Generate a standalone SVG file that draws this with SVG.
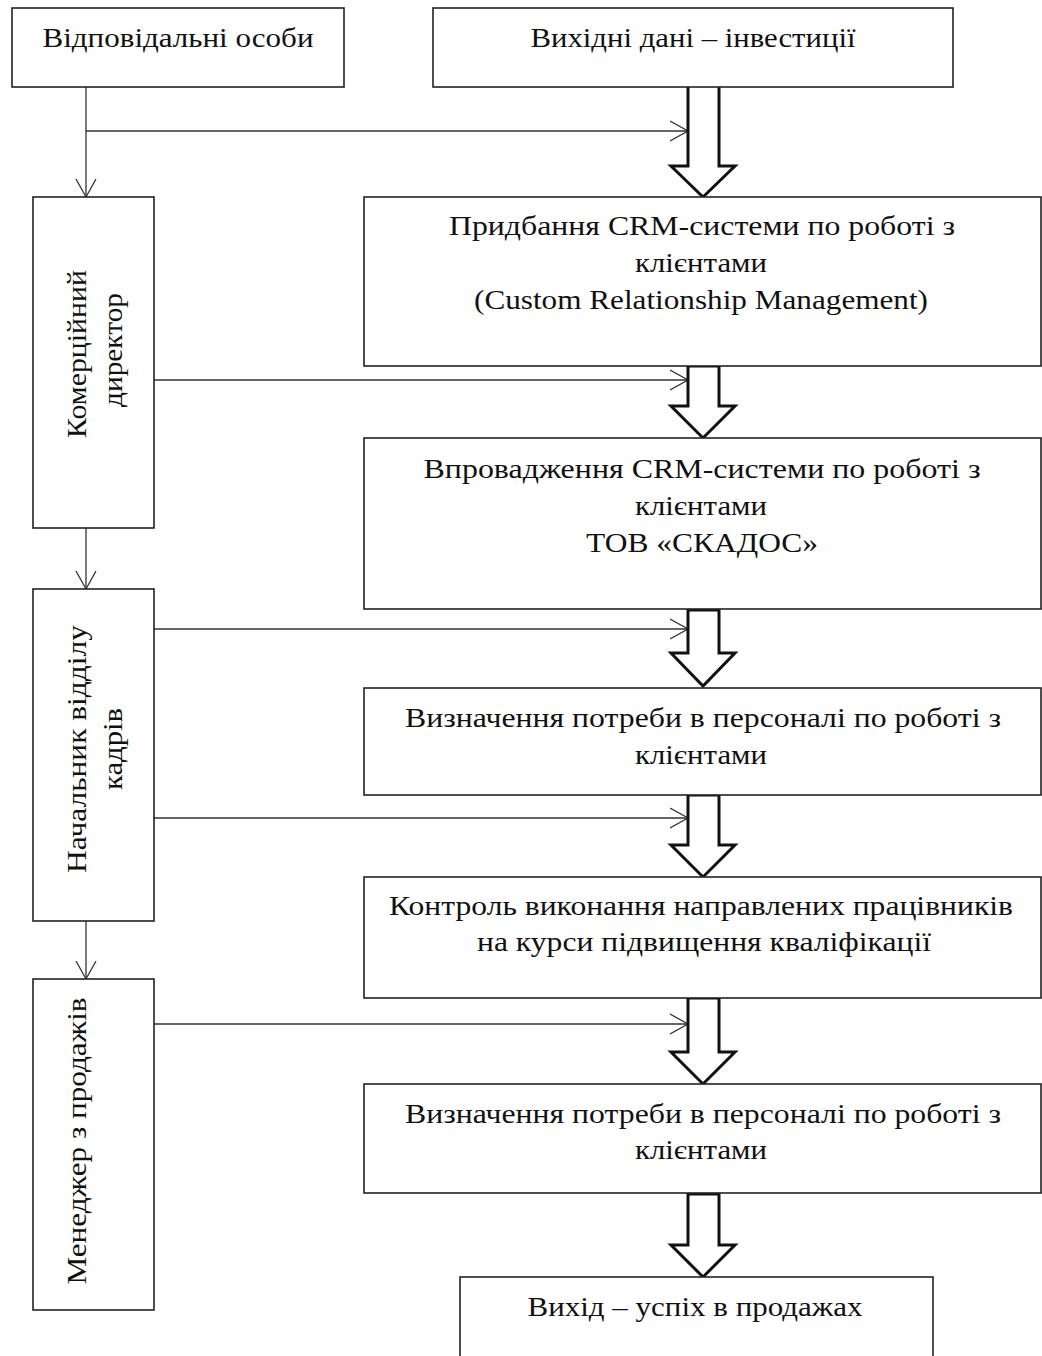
<svg xmlns="http://www.w3.org/2000/svg" width="1042" height="1356" viewBox="0 0 1042 1356">
<style>
.box{fill:#fff;stroke:#222;stroke-width:1.6}
.t{font-family:"Liberation Serif","Times New Roman",serif;font-size:28px;fill:#111;text-anchor:middle}
.ln{fill:none;stroke:#333;stroke-width:1.3}
.blk{fill:#fff;stroke:#111;stroke-width:3;stroke-linejoin:miter}
</style>
<defs>
<marker id="oa" markerWidth="20" markerHeight="24" refX="18" refY="11" orient="auto" markerUnits="userSpaceOnUse">
<path d="M0,1 L18,11 L0,21" fill="none" stroke="#333" stroke-width="1.3"/>
</marker>
</defs>
<rect width="1042" height="1356" fill="#fff"/>

<g id="connectors">
<line class="ln" x1="86" y1="87" x2="86" y2="197" marker-end="url(#oa)"/>
<line class="ln" x1="86" y1="131" x2="688" y2="131" marker-end="url(#oa)"/>
<line class="ln" x1="86" y1="528" x2="86" y2="589" marker-end="url(#oa)"/>
<line class="ln" x1="86" y1="921" x2="86" y2="979" marker-end="url(#oa)"/>
<line class="ln" x1="154" y1="380" x2="688" y2="380" marker-end="url(#oa)"/>
<line class="ln" x1="154" y1="629" x2="688" y2="629" marker-end="url(#oa)"/>
<line class="ln" x1="154" y1="818" x2="688" y2="818" marker-end="url(#oa)"/>
<line class="ln" x1="154" y1="1024" x2="688" y2="1024" marker-end="url(#oa)"/>
</g>

<g id="block-arrows">
<path class="blk" d="M688,85 L719,85 L719,166 L735,166 L703,197 L671,166 L688,166 Z"/>
<path class="blk" d="M688,366 L719,366 L719,406 L735,406 L703,438 L671,406 L688,406 Z"/>
<path class="blk" d="M688,610 L719,610 L719,653 L735,653 L703,686 L671,653 L688,653 Z"/>
<path class="blk" d="M688,795 L719,795 L719,845 L735,845 L703,877 L671,845 L688,845 Z"/>
<path class="blk" d="M688,998 L719,998 L719,1052 L735,1052 L703,1084 L671,1052 L688,1052 Z"/>
<path class="blk" d="M688,1194 L719,1194 L719,1245 L735,1245 L703,1277 L671,1245 L688,1245 Z"/>
</g>

<g id="n-responsible">
<rect class="box" x="12" y="8" width="332" height="79"/>
<text class="t" x="178" y="47" textLength="271" lengthAdjust="spacingAndGlyphs">Відповідальні особи</text>
</g>
<g id="n-input">
<rect class="box" x="433" y="8" width="520" height="79"/>
<text class="t" x="693" y="47" textLength="325" lengthAdjust="spacingAndGlyphs">Вихідні дані – інвестиції</text>
</g>
<g id="n-commercial">
<rect class="box" x="33" y="197" width="121" height="331"/>
<text class="t" transform="translate(86,354) rotate(-90)" textLength="168" lengthAdjust="spacingAndGlyphs">Комерційний</text>
<text class="t" transform="translate(122,350) rotate(-90)" textLength="114" lengthAdjust="spacingAndGlyphs">директор</text>
</g>
<g id="n-hr">
<rect class="box" x="33" y="589" width="121" height="332"/>
<text class="t" transform="translate(86,749) rotate(-90)" textLength="248" lengthAdjust="spacingAndGlyphs">Начальник відділу</text>
<text class="t" transform="translate(122,749) rotate(-90)" textLength="82" lengthAdjust="spacingAndGlyphs">кадрів</text>
</g>
<g id="n-sales">
<rect class="box" x="33" y="979" width="121" height="331"/>
<text class="t" transform="translate(86,1141) rotate(-90)" textLength="287" lengthAdjust="spacingAndGlyphs">Менеджер з продажів</text>
</g>
<g id="n-buy">
<rect class="box" x="364" y="197" width="677" height="169"/>
<text class="t" x="702" y="235" textLength="506" lengthAdjust="spacingAndGlyphs">Придбання CRM-системи по роботі з</text>
<text class="t" x="701" y="272" textLength="132" lengthAdjust="spacingAndGlyphs">клієнтами</text>
<text class="t" x="701" y="309" textLength="454" lengthAdjust="spacingAndGlyphs">(Custom Relationship Management)</text>
</g>
<g id="n-implement">
<rect class="box" x="364" y="438" width="677" height="171"/>
<text class="t" x="702" y="478" textLength="557" lengthAdjust="spacingAndGlyphs">Впровадження CRM-системи по роботі з</text>
<text class="t" x="701" y="515" textLength="132" lengthAdjust="spacingAndGlyphs">клієнтами</text>
<text class="t" x="702" y="552" textLength="232" lengthAdjust="spacingAndGlyphs">ТОВ «СКАДОС»</text>
</g>
<g id="n-need1">
<rect class="box" x="364" y="688" width="677" height="107"/>
<text class="t" x="703" y="727" textLength="596" lengthAdjust="spacingAndGlyphs">Визначення потреби в персоналі по роботі з</text>
<text class="t" x="701" y="764" textLength="132" lengthAdjust="spacingAndGlyphs">клієнтами</text>
</g>
<g id="n-control">
<rect class="box" x="364" y="877" width="677" height="121"/>
<text class="t" x="701" y="915" textLength="624" lengthAdjust="spacingAndGlyphs">Контроль виконання направлених працівників</text>
<text class="t" x="704" y="951" textLength="454" lengthAdjust="spacingAndGlyphs">на курси підвищення кваліфікації</text>
</g>
<g id="n-need2">
<rect class="box" x="364" y="1084" width="677" height="109"/>
<text class="t" x="703" y="1123" textLength="596" lengthAdjust="spacingAndGlyphs">Визначення потреби в персоналі по роботі з</text>
<text class="t" x="701" y="1159" textLength="132" lengthAdjust="spacingAndGlyphs">клієнтами</text>
</g>
<g id="n-output">
<rect class="box" x="460" y="1277" width="473" height="100"/>
<text class="t" x="695" y="1316" textLength="335" lengthAdjust="spacingAndGlyphs">Вихід – успіх в продажах</text>
</g>
</svg>
